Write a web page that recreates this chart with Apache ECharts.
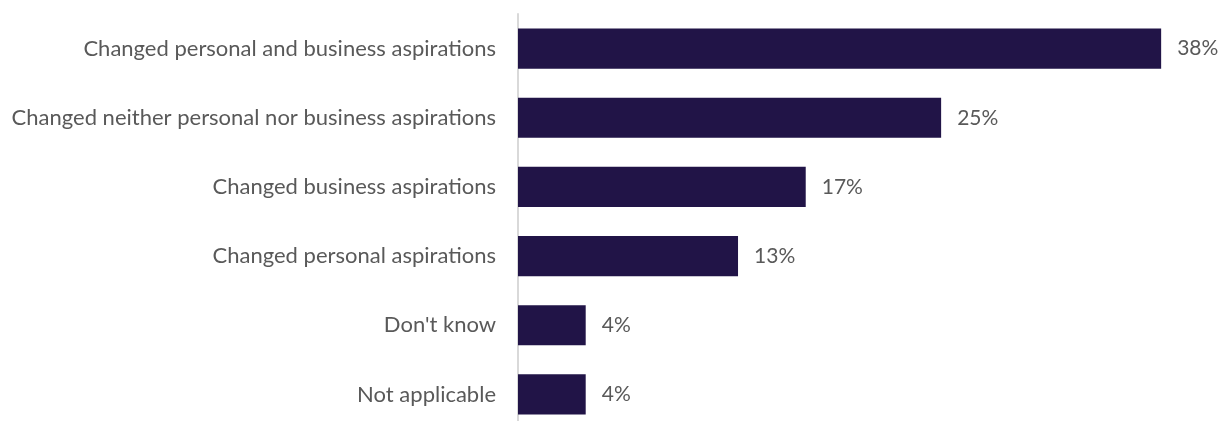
<!DOCTYPE html>
<html>
<head>
<meta charset="utf-8">
<script src="https://cdn.jsdelivr.net/npm/echarts@6/dist/echarts.min.js"></script>
<style>
  html, body { margin: 0; padding: 0; background: #ffffff; }
  #chart { width: 1231px; height: 421px; }
</style>
</head>
<body>
<div id="chart"></div>
<script>
// Survey responses, listed top to bottom
const categories = [
  'Changed personal and business aspirations',
  'Changed neither personal nor business aspirations',
  'Changed business aspirations',
  'Changed personal aspirations',
  "Don't know",
  'Not applicable'
];
const shares = [38, 25, 17, 13, 4, 4];

const FONT = 'Lato';
const TEXT = '#595959';

const chart = echarts.init(document.getElementById('chart'));
chart.setOption({
  animation: false,
  grid: {
    left: 518, right: 36, top: 14, height: 415,
    containLabel: false,
    outerBoundsMode: 'none'
  },
  xAxis: {
    type: 'value',
    min: 0,
    max: 40,
    show: false
  },
  yAxis: {
    type: 'category',
    inverse: true,
    data: categories,
    axisLine: { show: true, lineStyle: { color: '#d9d9d9', width: 2 } },
    axisTick: { show: false },
    axisLabel: { color: TEXT, fontFamily: FONT, fontSize: 22, margin: 22 }
  },
  series: [{
    type: 'bar',
    data: shares,
    barCategoryGap: '42%',
    itemStyle: { color: '#211447' },
    label: {
      show: true,
      position: 'right',
      distance: 16,
      color: TEXT,
      fontFamily: FONT,
      fontSize: 21,
      formatter: p => p.value + '%'
    }
  }]
});
</script>
</body>
</html>
